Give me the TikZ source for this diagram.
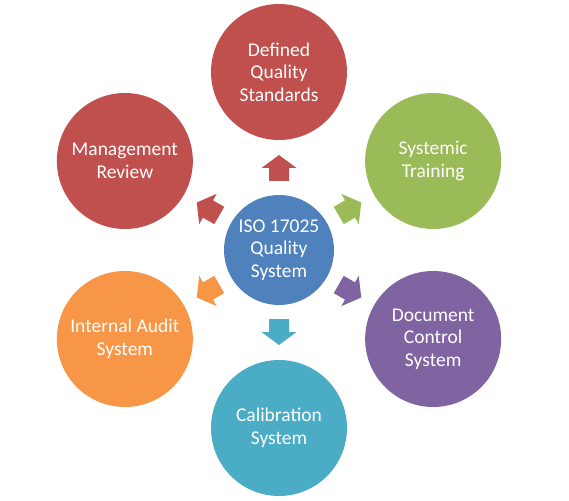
\documentclass[tikz,border=0pt]{standalone}
\usepackage{fontspec}
\setmainfont{Carlito}
\usepackage{xcolor}

\definecolor{isoblue}{HTML}{4F81BD}
\definecolor{isored}{HTML}{C0504D}
\definecolor{isogreen}{HTML}{9BBB59}
\definecolor{isopurple}{HTML}{8064A2}
\definecolor{isoteal}{HTML}{4BACC6}
\definecolor{isoorange}{HTML}{F79646}

\begin{document}
\begin{tikzpicture}[x=1pt,y=1pt,
  hub/.style={circle,minimum size=110pt,inner sep=0pt,align=center,text=white,
    font=\fontsize{19.5}{22.5}\selectfont},
  spoke/.style={circle,minimum size=136pt,inner sep=0pt,align=center,text=white,
    font=\fontsize{19.5}{22.5}\selectfont}]

\useasboundingbox (-279,-250) rectangle (290,250);

\node[hub,fill=isoblue] (iso) at (0,0) {ISO 17025\\Quality\\System};

\node[spoke,fill=isored] (standards) at (90:178) {Defined\\Quality\\Standards};
\node[spoke,fill=isogreen] (training) at (30:178) {Systemic\\Training};
\node[spoke,fill=isopurple] (doccontrol) at (-30:178) {Document\\Control\\System};
\node[spoke,fill=isoteal] (calibration) at (-90:178) {Calibration\\System};
\node[spoke,fill=isoorange] (audit) at (210:178) {Internal Audit\\System};
\node[spoke,fill=isored] (review) at (150:178) {Management\\Review};

% block arrows pointing out of the hub
\foreach \ang/\col in {90/isored,30/isogreen,-30/isopurple,-90/isoteal,210/isoorange,150/isored}
{
  \begin{scope}[shift={(iso.center)},rotate=\ang]
    \fill[\col] (69,-10) -- (82,-10) -- (82,-17.5) -- (95,0) -- (82,17.5) -- (82,10) -- (69,10) -- cycle;
  \end{scope}
}

\end{tikzpicture}
\end{document}
